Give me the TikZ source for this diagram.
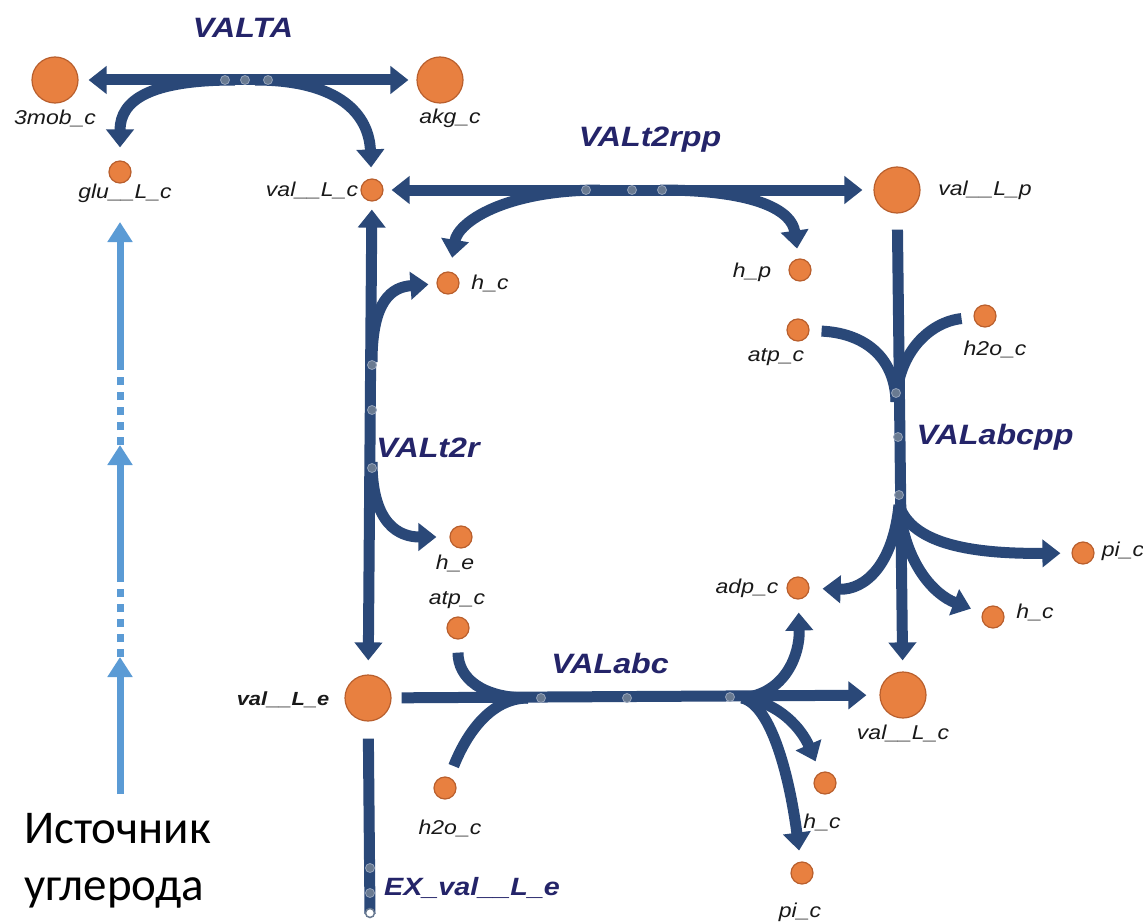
\documentclass[tikz,border=0pt]{standalone}
\usepackage{fontspec}
\setmainfont{Liberation Sans}
\newfontfamily\lblfont[FakeStretch=1.15]{Liberation Sans}
\newfontfamily\rusfont{Carlito}
\usetikzlibrary{arrows.meta}
\definecolor{rxnc}{RGB}{42,72,120}
\definecolor{metfill}{RGB}{232,128,64}
\definecolor{metdraw}{RGB}{185,95,45}
\definecolor{rxnlbl}{RGB}{36,36,105}
\definecolor{srcblue}{RGB}{91,155,213}
\definecolor{dotc}{RGB}{105,122,145}
\tikzset{
  met/.style={circle, fill=metfill, draw=metdraw, line width=1.2pt, inner sep=0pt},
  smallmet/.style={met, minimum size=22pt},
  bigmet/.style={met, minimum size=46pt},
  rxn/.style={draw=rxnc, line width=11pt},
  rdot/.style={circle, fill=dotc, draw=rxnc!50!white, line width=0.8pt, minimum size=9pt, inner sep=0pt},
  odot/.style={circle, fill=white, draw=dotc, line width=1.5pt, minimum size=9pt, inner sep=0pt},
  lbl/.style={font=\lblfont\itshape\fontsize{20}{24}\selectfont, text=black!90, inner sep=0pt},
  blbl/.style={font=\lblfont\bfseries\itshape\fontsize{19}{23}\selectfont, text=black!90, inner sep=0pt},
  rlbl/.style={font=\lblfont\bfseries\itshape\fontsize{28}{32}\selectfont, text=rxnlbl, inner sep=0pt},
  srcline/.style={draw=srcblue, line width=7pt},
  srcarrow/.style={srcline, -{Triangle[length=20pt,width=24pt]}},
  srcdots/.style={srcline, dash pattern=on 8pt off 7pt},
  rus/.style={font=\rusfont\fontsize{47}{54}\selectfont, text=black, inner sep=0pt, anchor=base west}
}
\begin{document}
\begin{tikzpicture}[x=1pt, y=-1pt, >={Triangle[length=18pt,width=27pt]}]
\fill[white] (0,0) rectangle (1143,923);
\useasboundingbox (0,0) rectangle (1143,923);

% metabolites
\node[bigmet] (mob) at (55,80) {};
\node[bigmet] (akg) at (440,80) {};
\node[smallmet] (glu) at (120,172) {};
\node[smallmet] (valc1) at (372,190) {};
\node[bigmet] (valp) at (897,190) {};
\node[smallmet] (hc1) at (448,283) {};
\node[smallmet] (hp) at (800,270) {};
\node[smallmet] (atp1) at (798,330) {};
\node[smallmet] (h2o1) at (985,316) {};
\node[smallmet] (he) at (461,537) {};
\node[smallmet] (atp2) at (458,628) {};
\node[smallmet] (adp) at (798,588) {};
\node[smallmet] (pi1) at (1083,553) {};
\node[smallmet] (hc2) at (993,617) {};
\node[bigmet] (vale) at (368,698) {};
\node[bigmet] (valc2) at (903,695) {};
\node[smallmet] (h2o2) at (445,788) {};
\node[smallmet] (hc3) at (825,783) {};
\node[smallmet] (pi2) at (802,873) {};

% metabolite labels
\node[lbl] (lmob) at (55,118) {3mob\_c};
\node[lbl] (lakg) at (450,118) {akg\_c};
\node[lbl] (lglu) at (125,193) {glu\_\_L\_c};
\node[lbl] (lvalc1) at (312,190) {val\_\_L\_c};
\node[lbl] (lvalp) at (985,190) {val\_\_L\_p};
\node[lbl] (lhc1) at (490,283) {h\_c};
\node[lbl] (lhp) at (752,272) {h\_p};
\node[lbl] (latp1) at (776,357) {atp\_c};
\node[lbl] (lh2o1) at (995,349) {h2o\_c};
\node[lbl] (lhe) at (455,563) {h\_e};
\node[lbl] (latp2) at (457,600) {atp\_c};
\node[lbl] (ladp) at (747,588) {adp\_c};
\node[lbl] (lpi1) at (1123,551) {pi\_c};
\node[lbl] (lhc2) at (1035,612) {h\_c};
\node[blbl] (lvale) at (283,700) {val\_\_L\_e};
\node[lbl] (lvalc2) at (903,733) {val\_\_L\_c};
\node[lbl] (lh2o2) at (450,828) {h2o\_c};
\node[lbl] (lhc3) at (822,822) {h\_c};
\node[lbl] (lpi2) at (800,912) {pi\_c};

% reaction labels
\node[rlbl] (rVALTA) at (243,28) {VALTA};
\node[rlbl] (rVALt2rpp) at (650,140) {VALt2rpp};
\node[rlbl] (rVALt2r) at (428,448) {VALt2r};
\node[rlbl] (rVALabcpp) at (995,437) {VALabcpp};
\node[rlbl] (rVALabc) at (610,663) {VALabc};
\node[rlbl, font=\lblfont\bfseries\itshape\fontsize{25}{30}\selectfont] (rEX) at (472,888) {EX\_val\_\_L\_e};

% junction coordinates
\coordinate (taL) at (235,80);
\coordinate (taR) at (255,80);
\coordinate (ppL) at (600,190);
\coordinate (ppR) at (660,190);
\coordinate (t2rA) at (372,362);
\coordinate (t2rB) at (372,462);
\coordinate (cppIn) at (896,402);
\coordinate (cppOut) at (899,505);
\coordinate (abcIn) at (528,698);
\coordinate (abcOut) at (742,698);
\coordinate (exEnd) at (370,914);

% VALTA
\draw[rxn,<->,shorten <=10pt,shorten >=8pt] (mob) -- (akg);
\draw[rxn,->,shorten >=13pt] (taL) .. controls (150,80) and (120,100) .. (glu);
\draw[rxn,->,shorten >=11pt] (taR) .. controls (340,80) and (369,115) .. (valc1);

% VALt2rpp
\draw[rxn,<->,shorten <=8pt,shorten >=11pt] (valc1) -- (valp);
\draw[rxn,->,shorten >=14pt] (ppL) .. controls (505,190) and (458,222) .. (hc1);
\draw[rxn,->,shorten >=10pt] (ppR) .. controls (760,190) and (792,212) .. (hp);

% VALt2r
\draw[rxn,<->,shorten <=8pt,shorten >=14pt] (valc1) -- (vale);
\draw[rxn,->,shorten >=8pt] (t2rA) .. controls (372,300) and (392,287) .. (hc1);
\draw[rxn,->,shorten >=13pt] (t2rB) .. controls (372,525) and (400,537) .. (he);

% VALabcpp
\draw[rxn,->,shorten <=16pt,shorten >=11pt] (valp) -- (valc2);
\draw[rxn,shorten <=12pt] (atp1) .. controls (862,333) and (895,355) .. (cppIn);
\draw[rxn,shorten <=12pt] (h2o1) .. controls (930,322) and (898,352) .. (cppIn);
\draw[rxn,->,shorten >=11pt] (cppOut) .. controls (912,545) and (975,554) .. (pi1);
\draw[rxn,->,shorten >=12pt] (cppOut) .. controls (905,565) and (935,595) .. (hc2);
\draw[rxn,->,shorten >=13pt] (cppOut) .. controls (893,565) and (865,590) .. (adp);

% VALabc
\draw[rxn,->,shorten <=10pt,shorten >=13pt] (vale) -- (valc2);
\draw[rxn,shorten <=13pt] (atp2) .. controls (458,678) and (482,698) .. (abcIn);
\draw[rxn,shorten <=12pt] (h2o2) .. controls (466,735) and (490,698) .. (abcIn);
\draw[rxn,->,shorten >=13pt] (abcOut) .. controls (785,694) and (800,655) .. (adp);
\draw[rxn,->,shorten >=12pt] (abcOut) .. controls (780,702) and (802,730) .. (hc3);
\draw[rxn,->,shorten >=11pt] (abcOut) .. controls (772,705) and (790,780) .. (pi2);

% EX_val__L_e
\draw[rxn,shorten <=17pt] (vale) -- (exEnd);

% reaction dots
\foreach \n/\p in {a1/{(225,80)},a2/{(245,80)},a3/{(268,80)},
  b1/{(586,190)},b2/{(632,190)},b3/{(662,190)},
  c1/{(372,365)},c2/{(372,410)},c3/{(372,468)},
  d1/{(896,393)},d2/{(898,437)},d3/{(899,495)},
  e1/{(541,698)},e2/{(627,698)},e3/{(730,697)},
  f1/{(370,868)},f2/{(370,893)}}
  \node[rdot] (dot\n) at \p {};
\node[odot] (dotf3) at (370,913) {};

% carbon source arrows
\coordinate (s0) at (120,794);
\coordinate (s1) at (120,657);
\coordinate (s2) at (120,580);
\coordinate (s3) at (120,445);
\coordinate (s4) at (120,364);
\coordinate (s5) at (120,222);
\draw[srcarrow] (s0) -- (s1);
\draw[srcdots] (s1) -- (s2);
\draw[srcarrow] (s2) -- (s3);
\draw[srcdots] (s3) -- (s4);
\draw[srcarrow] (s4) -- (s5);

\node[rus] (src1) at (24,843) {Источник};
\node[rus] (src2) at (24,900) {углерода};
\end{tikzpicture}
\end{document}
